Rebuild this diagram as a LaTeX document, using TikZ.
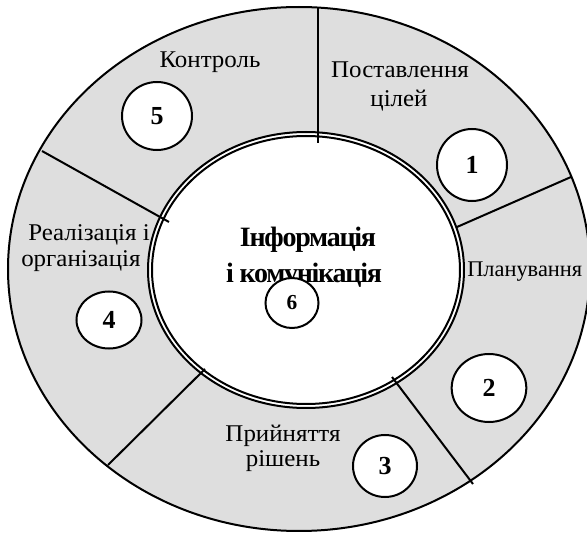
\documentclass[tikz,border=0pt]{standalone}
\usepackage{fontspec}
\setmainfont{Liberation Serif}
\newfontfamily\tightserif[LetterSpace=-4.5]{Liberation Serif}
\newfontfamily\wideserif[FakeStretch=1.04]{Liberation Serif}
\usetikzlibrary{shapes.geometric}

\definecolor{ringgray}{RGB}{222,222,222}

\tikzset{
  ringline/.style={line width=1.5pt, draw=black},
  divider/.style={line width=1.5pt, draw=black},
  numcircle/.style={ellipse, draw=black, line width=1.5pt, fill=white,
    inner sep=0pt, font=\fontsize{19.5}{21}\selectfont\bfseries},
  lbl/.style={inner sep=0pt, anchor=base, font=\fontsize{18}{21}\selectfont\wideserif},
  lblw/.style={lbl, anchor=base west},
  ctr/.style={inner sep=0pt, anchor=base,
    font=\fontsize{21}{24}\selectfont\tightserif\bfseries}
}

\begin{document}
\begin{tikzpicture}[x=0.75pt, y=-0.75pt]
  \useasboundingbox (0,0) rectangle (587,535);

  % outer ring with the six stages
  \draw[ringline, fill=ringgray] (299,269) ellipse [x radius=291, y radius=262];

  % inner double-lined core
  \draw[ringline, fill=white] (306,270) ellipse [x radius=158, y radius=138];
  \draw[ringline] (306,270) ellipse [x radius=154, y radius=134];

  % end points of the dividers between the stages
  \coordinate (d1o) at (318,8);    \coordinate (d1i) at (318,143);
  \coordinate (d2o) at (571,177);  \coordinate (d2i) at (457,227);
  \coordinate (d3o) at (473,484);  \coordinate (d3i) at (392,377);
  \coordinate (d4o) at (108,465);  \coordinate (d4i) at (205,369);
  \coordinate (d5o) at (42,151);   \coordinate (d5i) at (169,222);

  \draw[divider] (d1o) -- (d1i);
  \draw[divider] (d2o) -- (d2i);
  \draw[divider] (d3o) -- (d3i);
  \draw[divider] (d4o) -- (d4i);
  \draw[divider] (d5o) -- (d5i);

  % stage labels
  \node[lbl] (t5) at (210,68) {Контроль};
  \node[lbl] (t1a) at (400,78) {Поставлення};
  \node[lbl] (t1b) at (399,107) {цілей};
  \node[lblw] (t4a) at (28,241) {Реалізація і};
  \node[lblw] (t4b) at (21,267) {організація};
  \node[lblw, font=\fontsize{16.8}{20}\selectfont] (t2) at (467,277) {Планування};
  \node[lbl] (t3a) at (283,442) {Прийняття};
  \node[lbl] (t3b) at (283,467) {рішень};

  % numbered markers
  \node[numcircle, minimum width=52.5pt, minimum height=54pt] (n1) at (472,165) {1};
  \node[numcircle, minimum width=56pt, minimum height=51pt] (n2) at (489,388) {2};
  \node[numcircle, minimum width=48pt, minimum height=46.5pt] (n3) at (385,466) {3};
  \node[numcircle, minimum width=48.75pt, minimum height=42.75pt] (n4) at (109,320) {4};
  \node[numcircle, minimum width=52.5pt, minimum height=51pt] (n5) at (157,116) {5};

  % core label
  \node[ctr] (c1) at (308,247) {Інформація};
  \node[ctr] (c2) at (304,283) {і комунікація};
  \node[numcircle, minimum width=39.75pt, minimum height=37.5pt,
        font=\fontsize{16}{18}\selectfont\bfseries] (n6) at (292,303) {6};
\end{tikzpicture}
\end{document}
